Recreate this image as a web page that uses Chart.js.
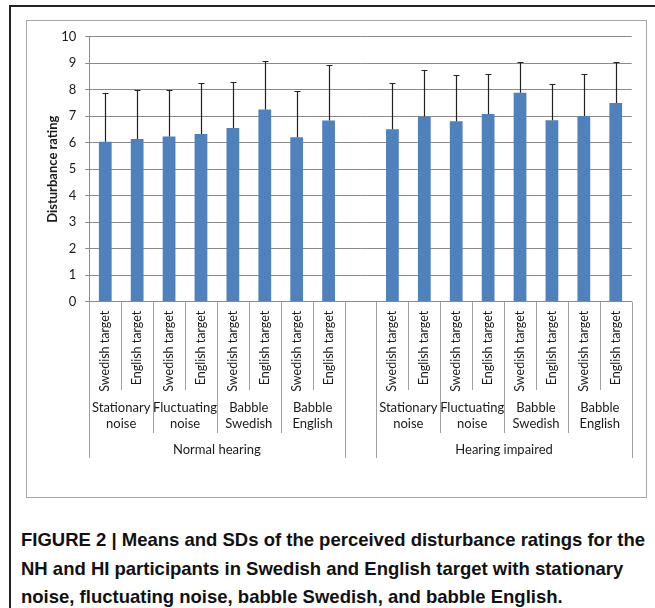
<!DOCTYPE html>
<html>
<head>
<meta charset="utf-8">
<script src="https://cdn.jsdelivr.net/npm/chart.js@4"></script>
<style>
  html, body { margin: 0; padding: 0; background: #fff; }
  body { width: 655px; height: 608px; position: relative; overflow: hidden; }
  #frame { position: absolute; left: 9px; top: 5px; width: 660px; height: 620px;
           border-top: 2px solid #222; border-left: 2px solid #222; box-sizing: border-box; }
  #box { position: absolute; left: 26px; top: 20px; width: 621px; height: 478px;
         border: 1px solid #a6a6a6; box-sizing: border-box; pointer-events: none; }
  #chart { position: absolute; left: 26px; top: 20px; }
  #caption { position: absolute; left: 21px; top: 526px; white-space: nowrap;
             font-family: "Liberation Sans", Arial, sans-serif; font-weight: bold;
             font-size: 18.5px; line-height: 28.5px; color: #111; transform-origin: 0 0; }
</style>
</head>
<body>
<div id="frame"></div>
<canvas id="chart" width="620" height="477"></canvas>
<div id="box"></div>
<div id="caption"><span id="cap1">FIGURE 2 | Means and SDs of the perceived disturbance ratings for the</span><br>NH and HI participants in Swedish and English target with stationary<br>noise, fluctuating noise, babble Swedish, and babble English.</div>
<script>
// Condition labels
const targets = ['Swedish target', 'English target'];
const noiseTypes = [['Stationary', 'noise'], ['Fluctuating', 'noise'], ['Babble', 'Swedish'], ['Babble', 'English']];
const hearingGroups = ['Normal hearing', 'Hearing impaired'];

// Mean disturbance ratings and standard deviations, in noise/target order
const meansNH = [6.04, 6.14, 6.24, 6.33, 6.56, 7.26, 6.21, 6.84];
const sdNH    = [1.82, 1.85, 1.77, 1.91, 1.75, 1.82, 1.75, 2.11];
const meansHI = [6.51, 6.99, 6.81, 7.09, 7.89, 6.85, 7.01, 7.50];
const sdHI    = [1.73, 1.75, 1.75, 1.50, 1.17, 1.38, 1.59, 1.55];

// Y axis ticks
const yTicks = [0, 1, 2, 3, 4, 5, 6, 7, 8, 9, 10];

// One category per bar, with an empty slot separating the two hearing groups
const groupLabels = noiseTypes.flatMap(() => targets);
const categories = [...groupLabels, '', ...groupLabels];
const means = [...meansNH, null, ...meansHI];
const sds = [...sdNH, null, ...sdHI];

const TEXT = '#1a1a1a';
const GRID = '#8a8a8a';
const FONT = 'Lato, "Open Sans", sans-serif';

// Upward SD whiskers on each bar
const errorBars = {
  id: 'errorBars',
  afterDatasetsDraw(chart) {
    const { ctx, scales: { x, y } } = chart;
    ctx.save();
    ctx.strokeStyle = '#222';
    ctx.lineWidth = 1.2;
    means.forEach((m, i) => {
      if (m == null) return;
      const px = Math.round(x.getPixelForValue(i)) + 0.5;
      const y0 = y.getPixelForValue(m);
      const y1 = Math.round(y.getPixelForValue(m + sds[i])) + 0.5;
      ctx.beginPath();
      ctx.moveTo(px, y0);
      ctx.lineTo(px, y1);
      ctx.moveTo(px - 3, y1);
      ctx.lineTo(px + 3, y1);
      ctx.stroke();
    });
    ctx.restore();
  }
};

// Multi-level category axis: dividers, noise-type row and hearing-group row
const groupAxis = {
  id: 'groupAxis',
  afterDraw(chart) {
    const { ctx, scales: { x }, chartArea } = chart;
    const slot = x.getPixelForValue(1) - x.getPixelForValue(0);
    const edge = i => x.getPixelForValue(i) - slot / 2;
    const base = chartArea.bottom;
    const rowEnd = [base + 88.3, base + 131.3, base + 156.3];
    ctx.save();
    ctx.strokeStyle = '#a0a0a0';
    ctx.lineWidth = 1;
    const vline = (px, y2) => {
      px = Math.round(px) + 0.5;
      ctx.beginPath();
      ctx.moveTo(px, base);
      ctx.lineTo(px, y2);
      ctx.stroke();
    };
    const n = targets.length * noiseTypes.length;
    hearingGroups.forEach((g, gi) => {
      const start = gi * (n + 1);
      for (let k = 0; k <= n; k++) {
        let level = 0;
        if (k === 0 || k === n) level = 2;
        else if (k % targets.length === 0) level = 1;
        vline(edge(start + k), rowEnd[level]);
      }
      ctx.fillStyle = TEXT;
      ctx.font = '13px ' + FONT;
      ctx.textAlign = 'center';
      ctx.textBaseline = 'middle';
      noiseTypes.forEach((lines, ni) => {
        const cx = (edge(start + ni * targets.length) + edge(start + (ni + 1) * targets.length)) / 2;
        lines.forEach((t, li) => ctx.fillText(t, cx, base + 106.3 + li * 16));
      });
      const gx = (edge(start) + edge(start + n)) / 2;
      ctx.fillText(g, gx, base + 148.3);
    });
    ctx.restore();
  }
};

new Chart(document.getElementById('chart'), {
  type: 'bar',
  data: {
    labels: categories,
    datasets: [{
      data: means,
      backgroundColor: '#4f81bd',
      borderWidth: 0,
      barPercentage: 0.4,
      categoryPercentage: 1.0
    }]
  },
  options: {
    responsive: false,
    animation: false,
    devicePixelRatio: 1,
    layout: { padding: { left: 0, top: 15, right: 14.3, bottom: 0 } },
    plugins: { legend: { display: false }, tooltip: { enabled: false } },
    scales: {
      x: {
        afterFit(s) { s.height = 195.3; },
        grid: { display: false, drawTicks: false },
        border: { display: true, color: GRID },
        ticks: {
          autoSkip: false, minRotation: 90, maxRotation: 90, padding: 9,
          color: TEXT, font: { family: FONT, size: 12.5 }
        }
      },
      y: {
        min: 0, max: 10,
        afterFit(s) { s.width = 63.3; },
        afterBuildTicks(s) { s.ticks = yTicks.map(v => ({ value: v })); },
        grid: { color: GRID, lineWidth: 1, tickLength: 4, drawTicks: true },
        border: { display: true, color: GRID },
        ticks: { padding: 9, color: TEXT, font: { family: FONT, size: 13 } },
        title: {
          display: true, text: 'Disturbance rating', color: TEXT,
          font: { family: FONT, size: 13, weight: 'bold' },
          padding: { top: 19.5, bottom: 0 }
        }
      }
    }
  },
  plugins: [errorBars, groupAxis]
});

// Fit the caption to the column width
const cap = document.getElementById('caption');
const w = document.getElementById('cap1').getBoundingClientRect().width;
cap.style.transform = 'scaleX(' + (624 / w) + ')';
</script>
</body>
</html>
